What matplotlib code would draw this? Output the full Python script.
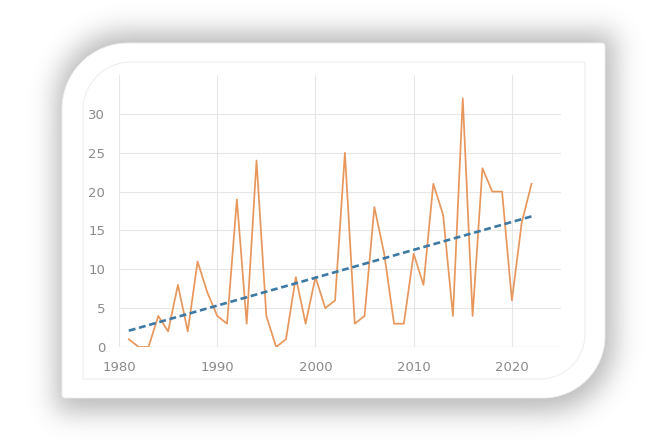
import numpy as np
import matplotlib
matplotlib.use("Agg")
import matplotlib.pyplot as plt
from matplotlib.path import Path
from matplotlib.patches import PathPatch

years = list(range(1981, 2023))
values = [1, 0, 0, 4, 2, 8, 2, 11, 7, 4, 3, 19, 3, 24, 4, 0, 1, 9, 3, 9,
          5, 6, 25, 3, 4, 18, 12, 3, 3, 12, 8, 21, 17, 4, 32, 4, 23, 20, 20, 6,
          16, 21]
x_ticks = [1980, 1990, 2000, 2010, 2020]
y_ticks = [0, 5, 10, 15, 20, 25, 30]

W, H = 665, 444
fig = plt.figure(figsize=(W / 100, H / 100), dpi=100)
fig.patch.set_facecolor("white")

bg = fig.add_axes([0, 0, 1, 1])
bg.set_xlim(0, W)
bg.set_ylim(H, 0)
bg.axis("off")


def card_path(x0, y0, x1, y1, r_tl, r_br, r_tr=3, r_bl=3):
    k = 0.5523
    verts = [
        (x0, y0 + r_tl),
        (x0, y0 + r_tl - k * r_tl), (x0 + r_tl - k * r_tl, y0), (x0 + r_tl, y0),
        (x1 - r_tr, y0),
        (x1 - r_tr + k * r_tr, y0), (x1, y0 + r_tr - k * r_tr), (x1, y0 + r_tr),
        (x1, y1 - r_br),
        (x1, y1 - r_br + k * r_br), (x1 - r_br + k * r_br, y1), (x1 - r_br, y1),
        (x0 + r_bl, y1),
        (x0 + r_bl - k * r_bl, y1), (x0, y1 - r_bl + k * r_bl), (x0, y1 - r_bl),
        (x0, y0 + r_tl),
    ]
    codes = [Path.MOVETO,
             Path.CURVE4, Path.CURVE4, Path.CURVE4,
             Path.LINETO,
             Path.CURVE4, Path.CURVE4, Path.CURVE4,
             Path.LINETO,
             Path.CURVE4, Path.CURVE4, Path.CURVE4,
             Path.LINETO,
             Path.CURVE4, Path.CURVE4, Path.CURVE4,
             Path.CLOSEPOLY]
    return Path(verts, codes)


def blur(img, sigma):
    r = int(3 * sigma)
    t = np.arange(-r, r + 1)
    k = np.exp(-t ** 2 / (2 * sigma ** 2))
    k /= k.sum()
    pad = np.pad(img, r, mode="constant")
    tmp = np.apply_along_axis(lambda m: np.convolve(m, k, mode="valid"), 1, pad)
    out = np.apply_along_axis(lambda m: np.convolve(m, k, mode="valid"), 0, tmp)
    return out


cx0, cy0, cx1, cy1 = 62, 43, 605, 398
# soft shadow
shadow_path = card_path(cx0 - 6, cy0 - 10, cx1 + 10, cy1 + 14, 70, 70)
gx, gy = np.meshgrid(np.arange(W) + 0.5, np.arange(H) + 0.5)
mask = shadow_path.contains_points(np.c_[gx.ravel(), gy.ravel()]).reshape(H, W)
sh = blur(mask.astype(float), 13)
rgba = np.zeros((H, W, 4))
rgba[..., :3] = 0.35
rgba[..., 3] = sh * 0.42
bg.imshow(rgba, extent=(0, W, H, 0), interpolation="bilinear", zorder=0)
bg.set_xlim(0, W)
bg.set_ylim(H, 0)

bg.add_patch(PathPatch(card_path(cx0, cy0, cx1, cy1, 66, 62),
                       facecolor="white", edgecolor="#ededed", lw=0.6,
                       zorder=1))
# chart area frame
bg.add_patch(PathPatch(card_path(83, 62, 585, 379, 48, 45, 1, 1),
                       facecolor="none", edgecolor="#eeeeee", lw=0.8,
                       zorder=2))

left, right, top, bottom = 119, 561, 75, 347
ax = fig.add_axes([left / W, 1 - bottom / H, (right - left) / W,
                   (bottom - top) / H])
ax.set_facecolor("none")
ax.set_xlim(1980, 2025)
ax.set_ylim(0, 35)
ax.set_xticks(x_ticks)
ax.set_yticks(y_ticks)
ax.grid(True, color="#e6e6e6", lw=0.8)
ax.set_axisbelow(True)
for s in ax.spines.values():
    s.set_visible(False)
ax.axhline(0, color="#dadada", lw=0.9)
ax.tick_params(length=0, colors="#8a8a8a", labelsize=9.5, pad=10)

ax.plot(years, values, color="#E8975C", lw=1.25)
coef = np.polyfit(years, values, 1)
ty = np.polyval(coef, [years[0], years[-1]])
ax.plot([years[0], years[-1]], ty, color="#3C79A3", lw=1.9,
        linestyle=(0, (2.6, 1.4)))

fig.savefig("out.png", dpi=100)
